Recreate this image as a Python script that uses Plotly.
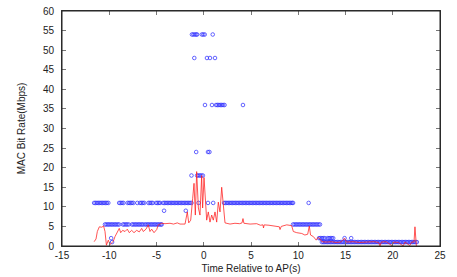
import plotly.graph_objects as go

# ---- Blue samples: MAC bit rate levels (Mbps) and the times (s) they occur ----
times_54 = [-1.25, -1.1, -0.95, -0.8, -0.7, -0.2, -0.05, 0.1, 0.95]
times_48 = [-1.0, 0.34, 0.66, 1.19]
times_36 = [0.13, 0.87, 1.3, 1.45, 1.6, 1.75, 1.9, 2.05, 2.2, 4.15]
times_24 = [-0.8, 0.45, 0.6]
times_18 = [-1.3, -0.7, -0.55, -0.4, -0.25, -0.1]
times_11 = [-11.6, -11.45, -11.3, -11.15, -11.0, -10.85, -10.7, -10.55, -10.4, -10.25, -10.1,
            -8.95, -8.8, -8.65, -8.5,
            -8.05, -7.9, -7.75, -7.6, -7.45,
            -7.03,
            -6.75, -6.6, -6.45, -6.3,
            -5.85, -5.7, -5.55, -5.4,
            -5.05, -4.9, -4.75, -4.62,
            -4.3, -4.15, -4.0, -3.85, -3.7, -3.55, -3.4, -3.25, -3.1, -2.95, -2.8, -2.65,
            -2.5, -2.35, -2.2, -2.05, -1.9, -1.75, -1.6, -1.45, -1.3,
            -0.55, 0.45, 1.0,
            2.15, 2.3, 2.45, 2.6, 2.75, 2.9, 3.05, 3.2, 3.35, 3.5, 3.65, 3.8, 3.95, 4.1,
            4.25, 4.4, 4.55, 4.7, 4.85, 5.0, 5.15, 5.3, 5.45, 5.6, 5.75, 5.9, 6.05, 6.2,
            6.35, 6.5, 6.65, 6.8, 6.95, 7.1, 7.25, 7.4, 7.55, 7.7, 7.85, 8.0, 8.15, 8.3,
            8.45, 8.6, 8.75, 8.9, 9.05, 9.2, 9.35, 9.45,
            11.1]
times_9 = [-4.2, -1.9]
times_5_5 = [-10.45, -10.3, -10.15, -10.0, -9.85, -9.7, -9.55, -9.4, -9.25, -9.1, -8.95,
             -8.55, -8.4, -8.25, -8.1, -7.95,
             -7.6, -7.45, -7.3, -7.15, -7.0, -6.85, -6.7, -6.55, -6.4,
             -6.2, -6.05, -5.9, -5.75, -5.6, -5.45, -5.3, -5.15, -5.0, -4.85, -4.7, -4.55, -4.45,
             9.45, 9.6, 9.75, 9.9, 10.05, 10.2, 10.35, 10.5, 10.65, 10.8, 10.95, 11.1,
             11.25, 11.4, 11.55, 11.7, 11.85, 12.0, 12.15, 12.3]
times_2 = [-9.8, 12.2, 12.35, 12.5, 12.65, 12.8, 13.1, 13.25, 13.4, 13.55, 13.7, 14.9, 15.6]
times_1 = [-9.7,
           12.5, 12.65, 12.8, 12.95, 13.1, 13.25, 13.4, 13.55, 13.7, 13.85, 14.0, 14.15,
           14.3, 14.45, 14.6, 14.75, 14.9, 15.05, 15.2, 15.35, 15.5, 15.65, 15.8, 15.95,
           16.1, 16.25, 16.4, 16.55, 16.7, 16.85, 17.0, 17.15, 17.3, 17.45, 17.6, 17.75,
           17.9, 18.05, 18.2, 18.35, 18.5, 18.65, 18.8, 18.95, 19.1, 19.25, 19.4, 19.55,
           19.7, 19.85, 20.0, 20.15, 20.3, 20.45, 20.6, 20.75, 20.9, 21.05, 21.2, 21.35,
           21.5, 21.65, 21.8, 21.95, 22.1, 22.25, 22.4, 22.55]

# ---- Red line: throughput (Mbps) over time (s) ----
red_time = [-11.6, -11.4, -11.26, -11.05, -10.8, -10.6, -10.45, -10.34, -10.3, -10.1, -9.92,
            -9.74, -9.57, -9.39, -9.15, -8.94, -8.79, -8.58, -8.33, -8.09, -7.88, -7.63,
            -7.38, -7.10, -6.82, -6.57, -6.40, -6.11, -5.87, -5.69, -5.51, -5.26, -4.98,
            -4.81, -4.45, -4.1, -3.57, -3.2, -2.8, -2.51, -1.98, -1.88, -1.74, -1.59, -1.38,
            -1.17, -1.03, -0.89, -0.75, -0.57, -0.40, -0.22, -0.12, 0.03, 0.16, 0.31, 0.48,
            0.66, 0.84, 1.01, 1.19, 1.37, 1.54, 1.72, 1.90, 2.07, 2.25, 2.78, 3.3, 3.8, 4.05,
            4.15, 4.25, 4.9, 5.6, 6.0, 6.27, 6.32, 6.4, 6.9, 7.3, 7.8, 8.0, 8.07, 8.2, 8.78,
            9.3, 9.48, 9.84, 10.37, 10.7, 11.0, 11.17, 11.3, 11.6, 11.9, 12.1, 12.3, 12.5,
            13.0, 13.5, 14.0, 14.5, 14.9, 15.1, 15.8, 16.5, 17.2, 18.0, 18.5, 18.65, 18.8,
            19.3, 19.9, 20.1, 20.6, 21.1, 21.3, 21.8, 22.0, 22.25, 22.35, 22.45, 22.5]
red_rate = [1.1, 1.8, 3.7, 4.9, 4.8, 5.1, 3.7, 0.8, 0.2, 1.5, 0.4,
            0.8, 1.2, 2.4, 3.7, 4.5, 3.4, 4.0, 3.7, 4.3, 3.4, 4.0,
            3.4, 4.0, 3.6, 4.5, 3.7, 4.3, 5.4, 3.7, 4.3, 3.4, 4.2,
            5.4, 5.8, 5.7, 5.8, 5.6, 5.9, 5.6, 5.6, 6.6, 8.7, 5.9, 6.6,
            12.2, 16.0, 7.9, 19.0, 9.7, 7.9, 18.0, 9.7, 17.5, 10.5, 6.6, 8.7,
            6.1, 7.9, 6.6, 8.7, 6.1, 11.2, 8.7, 15.0, 11.2, 5.9, 5.6, 5.8, 5.7, 5.9,
            7.0, 5.8, 5.6, 5.7, 5.3, 5.4, 4.6, 5.4, 5.3, 5.2, 5.1, 4.9, 4.2, 5.0, 5.4,
            5.2, 3.7, 3.4, 3.2, 2.8, 3.0, 5.1, 2.8, 2.4, 1.5, 2.2, 1.8, 1.1,
            1.0, 1.1, 0.9, 1.0, 2.0, 1.0, 1.1, 0.9, 1.0, 1.1, 0.9, 0.0, 1.0,
            1.1, 0.1, 1.0, 0.9, 0.0, 1.0, 0.1, 1.0, 1.0, 4.9, 1.0, 0.0]

x_ticks = [-15, -10, -5, 0, 5, 10, 15, 20, 25]
y_ticks = [0, 5, 10, 15, 20, 25, 30, 35, 40, 45, 50, 55, 60]

levels = [(54, times_54), (48, times_48), (36, times_36), (24, times_24), (18, times_18),
          (11, times_11), (9, times_9), (5.5, times_5_5), (2, times_2), (1, times_1)]
blue_x, blue_y = [], []
for rate, ts in levels:
    blue_x += ts
    blue_y += [rate] * len(ts)

fig = go.Figure()
fig.add_trace(go.Scatter(
    x=blue_x, y=blue_y, mode="markers",
    marker=dict(symbol="circle-open", size=3.6, color="rgba(50,50,255,0.75)",
                line=dict(width=1, color="rgba(50,50,255,0.75)")),
    showlegend=False, hoverinfo="skip"))
fig.add_trace(go.Scatter(
    x=red_time, y=red_rate, mode="lines",
    line=dict(color="rgba(255,30,30,0.85)", width=0.9),
    showlegend=False, hoverinfo="skip"))

axis_font = dict(family="Liberation Sans, Arial, sans-serif", size=10, color="#222")
fig.update_layout(
    width=457, height=277,
    margin=dict(l=62, r=17, t=11, b=31),
    paper_bgcolor="white", plot_bgcolor="white",
    font=axis_font,
    shapes=[dict(type="rect", xref="paper", yref="paper", x0=0, y0=0, x1=1, y1=1,
                 line=dict(color="#222", width=1), layer="above")],
)
fig.update_xaxes(
    range=[-15, 25], tickvals=x_ticks, ticktext=[str(v) for v in x_ticks],
    ticks="inside", ticklen=4, tickcolor="#777", tickwidth=1,
    showline=True, linecolor="#333", linewidth=1, mirror="ticks",
    showgrid=False, zeroline=False, tickfont=axis_font, automargin=False,
    ticklabeloverflow="allow",
    title=dict(text="Time Relative to AP(s)", font=axis_font, standoff=4),
)
fig.update_yaxes(
    range=[0, 60], tickvals=y_ticks, ticktext=[str(v) for v in y_ticks],
    ticks="inside", ticklen=4, tickcolor="#777", tickwidth=1,
    showline=True, linecolor="#333", linewidth=1, mirror="ticks",
    showgrid=False, zeroline=False, tickfont=axis_font, ticklabelstandoff=5,
    automargin=False, ticklabeloverflow="allow",
    title=dict(text="MAC Bit Rate(Mbps)", font=axis_font, standoff=15),
)

# Remove the browser's default 8px body margin so the figure fills the window exactly.
fig.write_html("out.html", config={"displayModeBar": False},
               post_script="document.body.style.margin='0';")
